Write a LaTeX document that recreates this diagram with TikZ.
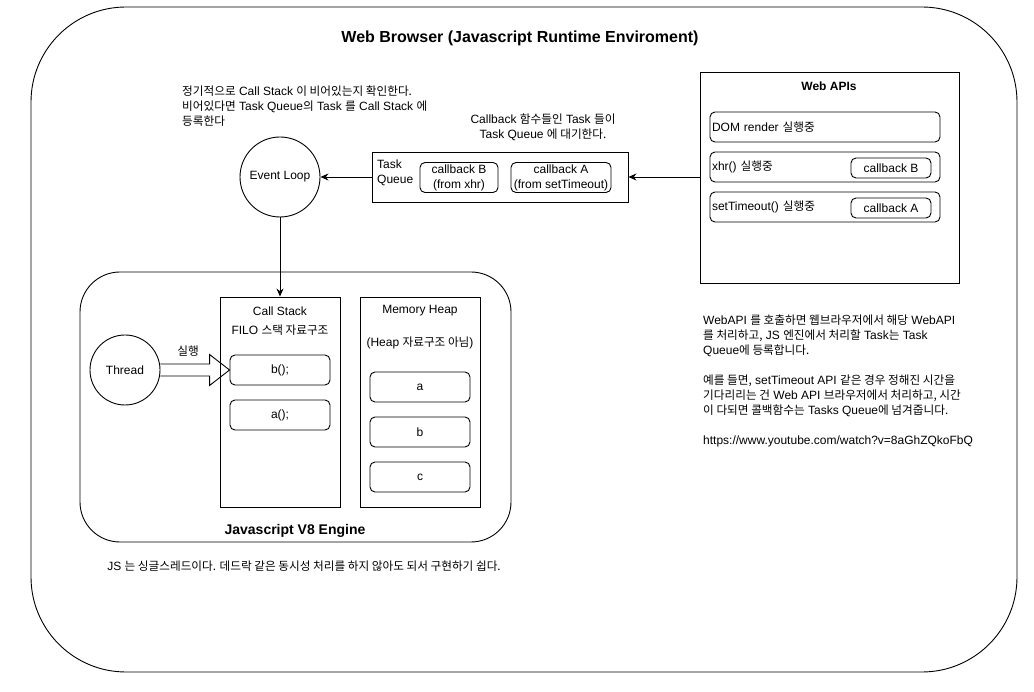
\documentclass[tikz,border=0pt]{standalone}
\usepackage{fontspec}
\setmainfont{Liberation Sans}
\newfontfamily\krfont[Scale=0.97]{Noto Sans CJK KR}
\newcommand{\kr}[1]{{\krfont #1}}
\newcommand{\txtsz}{\fontsize{12}{15}\selectfont}
\usetikzlibrary{arrows.meta,positioning,calc}

\begin{document}
\begin{tikzpicture}[x=1pt, y=-1pt,
  every node/.style={font=\txtsz, text=black},
  panel/.style={draw, line width=0.9pt, inner sep=0pt},
  cbox/.style={draw, line width=0.9pt, rounded corners=5pt, inner sep=0pt, minimum height=30pt},
  ring/.style={draw, line width=0.9pt, circle, inner sep=0pt},
  link/.style={-{Stealth[length=8pt, width=7pt]}, line width=0.9pt},
  note/.style={inner sep=0pt, align=left}]
  \useasboundingbox (0,0) rectangle (1034,692);

  %--- Browser frame ---
  \node[panel, rounded corners=95pt, minimum width=986pt, minimum height=665pt] (browser) at (524,339.5) {};
  \node[font=\fontsize{16}{18}\selectfont\bfseries] (browsertitle) at (520,38) {Web Browser (Javascript Runtime Enviroment)};

  %--- Web APIs ---
  \node[panel, minimum width=259pt, minimum height=211pt] (webapis) at (829.5,177.5) {};
  \node[font=\txtsz\bfseries] (webapistitle) at (829,86) {Web APIs};
  \node[cbox, text width=226pt, inner xsep=2pt, align=left] (dom) at (825,127) {DOM render \kr{실행중}};
  \node[cbox, text width=226pt, inner xsep=2pt, align=left] (xhr) at (825,167) {xhr() \kr{실행중}};
  \node[cbox, text width=226pt, inner xsep=2pt, align=left] (timeout) at (825,207) {setTimeout() \kr{실행중}};
  \node[cbox, minimum width=80pt, minimum height=20pt] (apicbB) at (891,168) {callback B};
  \node[cbox, minimum width=80pt, minimum height=20pt] (apicbA) at (891,208) {callback A};

  %--- Task Queue ---
  \node[panel, minimum width=256pt, minimum height=50pt] (taskq) at (500,177) {};
  \node[note, anchor=west] (taskqtitle) at (377,173) {Task\\Queue};
  \node[cbox, minimum width=78pt, align=center] (qcbB) at (459,177.5) {callback B\\(from xhr)};
  \node[cbox, minimum width=100pt, align=center] (qcbA) at (561,177.5) {callback A\\(from setTimeout)};
  \node[note, align=center] (qnote) at (543,127) {Callback \kr{함수들인} Task \kr{들이}\\Task Queue \kr{에 대기한다.}};

  %--- Event Loop ---
  \node[ring, minimum size=80pt] (eventloop) at (280,177) {Event Loop};
  \node[note, anchor=west] (loopnote) at (182,106) {\kr{정기적으로} Call Stack \kr{이 비어있는지 확인한다.}\\\kr{비어있다면} Task Queue\kr{의} Task \kr{를} Call Stack \kr{에}\\\kr{등록한다}};

  \draw[link] (webapis.west |- taskq.east) -- (taskq.east);
  \draw[link] (taskq.west) -- (eventloop.east);

  %--- V8 Engine ---
  \node[panel, rounded corners=40pt, minimum width=431pt, minimum height=270pt] (engine) at (295.5,407) {};
  \node[font=\fontsize{14}{16}\selectfont\bfseries] (enginetitle) at (295,531) {Javascript V8 Engine};

  \node[panel, minimum width=120pt, minimum height=210pt] (callstack) at (280,402) {};
  \node (stacktitle) at (280,311) {Call Stack};
  \node (stacksub) at (280,330) {FILO \kr{스택 자료구조}};
  \node[cbox, minimum width=100pt] (bcall) at (280,370) {b();};
  \node[cbox, minimum width=100pt] (acall) at (280,415) {a();};

  \node[panel, minimum width=120pt, minimum height=210pt] (heap) at (420,402) {};
  \node (heaptitle) at (420,311) {Memory Heap};
  \node (heapsub) at (420,343) {(Heap \kr{자료구조 아님})};
  \node[cbox, minimum width=100pt] (heapa) at (420,387) {a};
  \node[cbox, minimum width=100pt] (heapb) at (420,432) {b};
  \node[cbox, minimum width=100pt] (heapc) at (420,477) {c};

  \node[ring, minimum size=70pt] (thread) at (125,370) {Thread};
  \draw[line width=0.9pt, line join=miter]
    ($(thread.east)+(0,-6)$) -- ($(bcall.west)+(-20,-6)$) -- ($(bcall.west)+(-20,-15.5)$)
    -- (bcall.west) -- ($(bcall.west)+(-20,15.5)$) -- ($(bcall.west)+(-20,6)$) -- ($(thread.east)+(0,6)$);
  \node (runlabel) at (188,351) {\kr{실행}};

  \draw[link] (eventloop.south) -- (callstack.north);

  %--- Notes ---
  \node (jsnote) at (304,566) {JS \kr{는 싱글스레드이다. 데드락 같은 동시성 처리를 하지 않아도 되서 구현하기 쉽다.}};
  \node[note, anchor=west] (apinote) at (703,381) {WebAPI \kr{를 호출하면 웹브라우저에서 해당} WebAPI\\
    \kr{를 처리하고,} JS \kr{엔진에서 처리할} Task\kr{는} Task\\
    Queue\kr{에 등록합니다.}\\[15pt]
    \kr{예를 들면,} setTimeout API \kr{같은 경우 정해진 시간을}\\
    \kr{기다리리는 건} Web API \kr{브라우저에서 처리하고, 시간}\\
    \kr{이 다되면 콜백함수는} Tasks Queue\kr{에 넘겨줍니다.}\\[15pt]
    https://www.youtube.com/watch?v=8aGhZQkoFbQ};
\end{tikzpicture}
\end{document}
